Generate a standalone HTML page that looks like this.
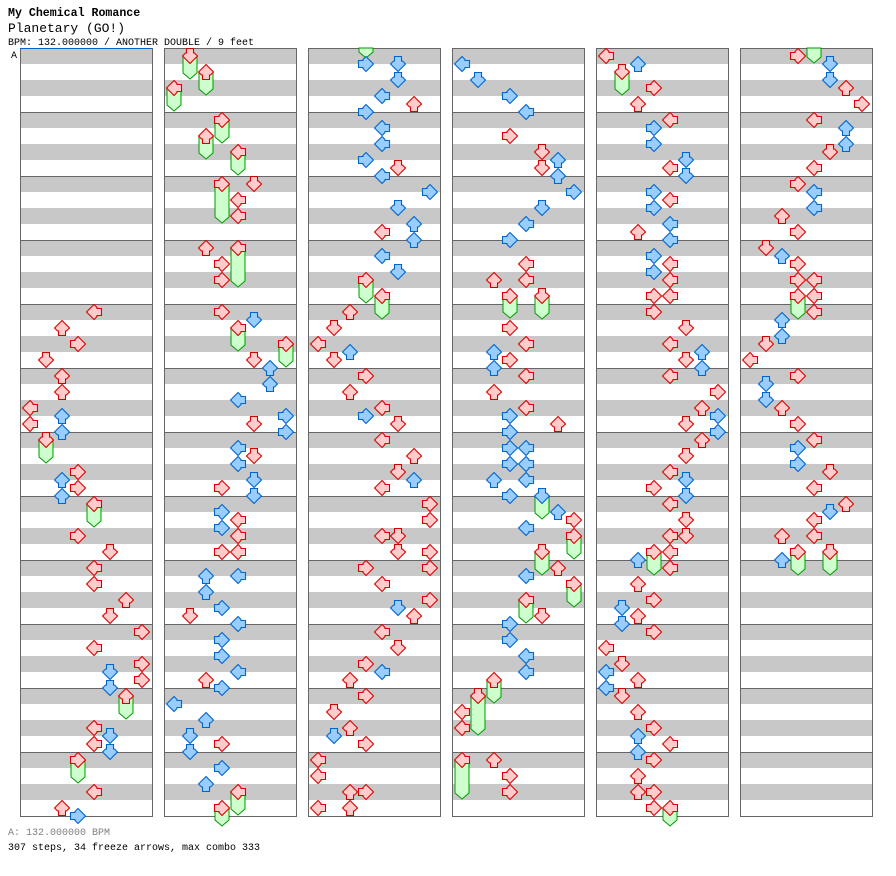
<!DOCTYPE html>
<html><head><meta charset="utf-8">
<style>
html,body{margin:0;padding:0;background:#fff;width:896px;height:876px;overflow:hidden}
svg{position:absolute;left:0;top:0}
</style></head>
<body>
<svg id="s" width="896" height="876" xmlns="http://www.w3.org/2000/svg" font-family="Liberation Mono, monospace">
<text x="8" y="16" font-size="11.6" font-weight="bold" fill="#000">My Chemical Romance</text>
<text x="8" y="32" font-size="13" fill="#000">Planetary (GO!)</text>
<text x="8" y="45" font-size="10" fill="#000">BPM: 132.000000 / ANOTHER DOUBLE / 9 feet</text>
<text x="11" y="58" font-size="10" fill="#000">A</text>
<text x="8" y="835" font-size="10" fill="#808080">A: 132.000000 BPM</text>
<text x="8" y="850" font-size="10" fill="#000">307 steps, 34 freeze arrows, max combo 333</text>
<g id="g"></g>
</svg>
<script>
var cols=[
"312:4r 328:2r 344:3r 360:1r 376:2r 392:2r 408:0r 416:2b 424:0r 432:2b 440:1r-463 472:3r 480:2b 488:3r 496:2b 504:4r-527 536:3r 552:5r 568:4r 584:4r 600:6r 616:5r 632:7r 648:4r 664:7r 672:5b 680:7r 688:5b 696:6r-719 728:4r 736:5b 744:4r 752:5b 760:3r-783 792:4r 808:2r 816:3b",
"56:1r-79 72:2r-95 88:0r-111 120:3r-143 136:2r-159 152:4r-175 184:3r-223 184:5r 200:4r 216:4r 248:2r 248:4r-287 264:3r 280:3r 312:3r 320:5b 328:4r-351 344:7r-367 360:5r 368:6b 384:6b 400:4b 416:7b 424:5r 432:7b 448:4b 456:5r 464:4b 480:5b 488:3r 496:5b 512:3b 520:4r 528:3b 536:4r 552:3r 552:4r 576:2b 576:4b 592:2b 608:3b 616:1r 624:4b 640:3b 656:3b 672:4b 680:2r 688:3b 704:0b 720:2b 736:1b 744:3r 752:1b 768:3b 784:2b 792:4r-815 808:3r-826",
"B:3:48:58 64:3b 64:5b 80:5b 96:4b 104:6r 112:3b 128:4b 144:4b 160:3b 168:5r 176:4b 192:7b 208:5b 224:6b 232:4r 240:6b 256:4b 272:5b 280:3r-303 296:4r-319 312:2r 328:1r 344:0r 352:2b 360:1r 376:3r 392:2r 408:4r 416:3b 424:5r 440:4r 456:6r 472:5r 480:6b 488:4r 504:7r 520:7r 536:4r 536:5r 552:5r 552:7r 568:3r 568:7r 584:4r 600:7r 608:5b 616:6r 632:4r 648:5r 664:3r 672:4b 680:2r 696:3r 712:1r 728:2r 736:1b 744:3r 760:0r 776:0r 792:2r 792:3r 808:0r 808:2r",
"64:0b 80:1b 96:3b 112:4b 136:3r 152:5r 160:6b 168:5r 176:6b 192:7b 208:5b 224:4b 240:3b 264:4r 280:2r 280:4r 296:3r-318 296:5r-319 328:3r 344:4r 352:2b 360:3r 368:2b 376:4r 392:2r 408:4r 416:3b 424:6r 432:3b 448:3b 448:4b 464:3b 464:4b 480:2b 480:4b 496:3b 496:5b-519 512:6b 520:7r 528:4b 536:7r-559 552:5r-575 568:6r 576:4b 584:7r-607 600:4r-623 616:5r 624:3b 640:3b 656:4b 672:4b 680:2r-703 696:1r-735 712:0r 728:0r 760:0r-799 760:2r 776:3r 792:3r",
"56:0r 64:2b 72:1r-95 88:3r 104:2r 120:4r 128:3b 144:3b 160:5b 168:4r 176:5b 192:3b 200:4r 208:3b 224:4b 232:2r 240:4b 256:3b 264:4r 272:3b 280:4r 296:3r 296:4r 312:3r 328:5r 344:4r 352:6b 360:5r 368:6b 376:4r 392:7r 408:6r 416:7b 424:5r 432:7b 440:6r 456:5r 472:4r 480:5b 488:3r 496:5b 504:4r 520:5r 536:4r 536:5r 552:3r-575 552:4r 560:2b 568:4r 584:2r 600:3r 608:1b 616:2r 624:1b 632:3r 648:0r 664:1r 672:0b 680:2r 688:0b 696:1r 712:2r 728:3r 736:2b 744:4r 752:2b 760:3r 776:2r 792:2r 792:3r 808:3r 808:4r-826",
"B:4:48:63 56:3r 64:5b 80:5b 88:6r 104:7r 120:4r 128:6b 144:6b 152:5r 168:4r 184:3r 192:4b 208:4b 216:2r 232:3r 248:1r 256:2b 264:3r 280:3r 280:4r 296:3r-319 296:4r 312:4r 320:2b 336:2b 344:1r 360:0r 376:3r 384:1b 400:1b 408:2r 424:3r 440:4r 448:3b 464:3b 472:5r 488:4r 504:6r 512:5b 520:4r 536:2r 536:4r 552:3r-575 552:5r-575 560:2b"
];
var X0=[20,164,308,452,596,740];
var rot=[0,-90,90,180];
var bg="",fr="",ar="";
for(var c=0;c<6;c++){
 var x=X0[c];
 bg+='<rect x="'+x+'" y="48" width="132" height="768" fill="#fff"/>';
 for(var m=0;m<12;m++){var y=48+m*64;
  bg+='<rect x="'+x+'" y="'+y+'" width="132" height="16" fill="#c8c8c8"/><rect x="'+x+'" y="'+(y+32)+'" width="132" height="16" fill="#c8c8c8"/>';
  if(m>0)bg+='<line x1="'+x+'" y1="'+(y+0.5)+'" x2="'+(x+132)+'" y2="'+(y+0.5)+'" stroke="#666" stroke-width="1"/>';
 }
 bg+='<rect x="'+(x+0.5)+'" y="48.5" width="132" height="768" fill="none" stroke="#666" stroke-width="1"/>';
 var items=cols[c].split(" ");
 for(var i=0;i<items.length;i++){
  var it=items[i];
  if(it[0]=="B"){var p=it.split(":");var l=+p[1],cx=x+10+16*l,y1=+p[2],y2=+p[3];
   fr+='<polygon points="'+(cx-7)+','+y1+' '+(cx+7)+','+y1+' '+(cx+7)+','+(y2-6)+' '+cx+','+y2+' '+(cx-7)+','+(y2-6)+'" fill="#ccffcc" stroke="#009900" stroke-width="1"/>';continue;}
  var p=it.split(":");var y=+p[0];var rest=p[1];var l=+rest[0];var col=rest[1];var fe=rest.indexOf("-")>0?+rest.split("-")[1]:0;
  var cx=x+10+16*l;
  if(fe){fr+='<polygon points="'+(cx-7)+','+y+' '+(cx+7)+','+y+' '+(cx+7)+','+(fe-6)+' '+cx+','+fe+' '+(cx-7)+','+(fe-6)+'" fill="#ccffcc" stroke="#009900" stroke-width="1"/>';}
  var fill=col=="r"?"#ffcccc":"#99ccff",st=col=="r"?"#dd0000":"#0066cc";
  ar+='<polygon transform="translate('+cx+','+y+') rotate('+rot[l%4]+')" points="-7.5,0 0,-7.5 3,-4.5 3,-3.5 7.5,-3.5 7.5,3.5 3,3.5 3,4.5 0,7.5" fill="'+fill+'" stroke="'+st+'" stroke-width="1.1"/>';
 }
}
bg+='<line x1="20" y1="48.5" x2="152" y2="48.5" stroke="#0066cc" stroke-width="1"/>';
document.getElementById("g").innerHTML=bg+fr+ar;
</script>
</body></html>
